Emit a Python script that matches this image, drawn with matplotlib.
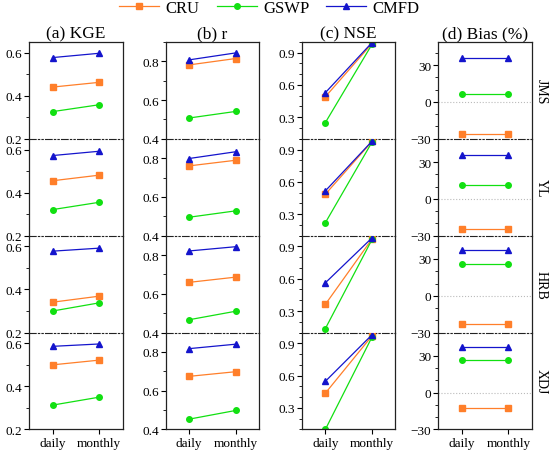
import numpy as np
import matplotlib
matplotlib.use('Agg')
import matplotlib.pyplot as plt
from matplotlib.ticker import MultipleLocator
from matplotlib.lines import Line2D

plt.rcParams['font.family'] = ['Liberation Serif', 'DejaVu Serif']
plt.rcParams['axes.unicode_minus'] = True

regions = ['JMS', 'YL', 'HRB', 'XDJ']
scales = ['daily', 'monthly']
datasets = ['CRU', 'GSWP', 'CMFD']
colors = ['#FF7F2A', '#11E011', '#1414CC']
markers = ['s', 'o', '^']

# values[region] -> [CRU, GSWP, CMFD] each [daily, monthly]
kge = {
    'JMS': [[0.44, 0.462], [0.326, 0.358], [0.577, 0.597]],
    'YL':  [[0.455, 0.481], [0.321, 0.355], [0.572, 0.592]],
    'HRB': [[0.341, 0.369], [0.300, 0.338], [0.578, 0.592]],
    'XDJ': [[0.500, 0.522], [0.313, 0.350], [0.586, 0.597]],
}
r = {
    'JMS': [[0.781, 0.814], [0.507, 0.541], [0.807, 0.843]],
    'YL':  [[0.760, 0.789], [0.495, 0.528], [0.798, 0.833]],
    'HRB': [[0.659, 0.686], [0.466, 0.510], [0.821, 0.843]],
    'XDJ': [[0.674, 0.698], [0.453, 0.498], [0.817, 0.840]],
}
nse = {
    'JMS': [[0.49, 0.985], [0.25, 0.978], [0.528, 0.994]],
    'YL':  [[0.485, 0.975], [0.22, 0.970], [0.516, 0.978]],
    'HRB': [[0.362, 0.970], [0.137, 0.965], [0.562, 0.980]],
    'XDJ': [[0.437, 0.970], [0.10, 0.960], [0.547, 0.980]],
}
bias = {
    'JMS': [[-26.4, -26.4], [6.9, 6.9], [36.0, 36.0]],
    'YL':  [[-24.5, -24.5], [11.2, 11.2], [36.0, 36.0]],
    'HRB': [[-22.9, -22.9], [26.1, 26.1], [37.6, 37.6]],
    'XDJ': [[-12.8, -12.8], [26.7, 26.7], [36.9, 36.9]],
}

metrics = [kge, r, nse, bias]
titles = ['(a) KGE', '(b) r', '(c) NSE', '(d) Bias (%)']
ylims = [(0.2, 0.65), (0.4, 0.9), (0.1, 1.0), (-30, 49)]
majors = [0.2, 0.2, 0.3, 30]
minors = [0.1, 0.1, 0.1, 10]

fig, axes = plt.subplots(4, 4, figsize=(5.5, 4.56), dpi=100)
fig.subplots_adjust(left=0.053, right=0.967, top=0.906, bottom=0.056,
                    wspace=0.46, hspace=0)

x = np.arange(1, len(scales) + 1)
for j, data in enumerate(metrics):
    for i, reg in enumerate(regions):
        ax = axes[i, j]
        ax.patch.set_visible(False)
        for k in range(len(datasets)):
            ax.plot(x, data[reg][k], color=colors[k], marker=markers[k],
                    markersize=4, lw=0.9, clip_on=(j == 2))
        if j == 3:
            ax.axhline(0, color='#BBBBBB', lw=0.8, ls=':', zorder=0)
        ax.set_xlim(0.5, 2.5)
        ax.set_ylim(*ylims[j])
        ax.yaxis.set_major_locator(MultipleLocator(majors[j]))
        ax.yaxis.set_minor_locator(MultipleLocator(minors[j]))
        ax.tick_params(axis='y', which='major', direction='out', length=3.5,
                       width=0.8, labelsize=9.5, pad=1.5)
        ax.tick_params(axis='y', which='minor', direction='out', length=2,
                       width=0.6)
        ax.set_xticks(x)
        if i == 3:
            ax.set_xticklabels(scales)
            ax.tick_params(axis='x', direction='out', length=3.5, width=0.8,
                           labelsize=9.5, pad=2)
        else:
            ax.set_xticklabels([])
            ax.tick_params(axis='x', length=0)
        for s in ['left', 'right', 'top', 'bottom']:
            ax.spines[s].set_linewidth(0.9)
            ax.spines[s].set_color('#222222')
            ax.spines[s].set_zorder(5)
        if i > 0:
            ax.spines['top'].set_visible(False)
        if i < 3:
            ax.spines['bottom'].set_linestyle((0, (6, 2, 1.2, 2, 1.2, 2)))
            ax.spines['bottom'].set_linewidth(0.8)
        if i == 0:
            ax.set_title(titles[j], fontsize=12.5, pad=3)
        if j == 3:
            ax.text(1.1, 0.5, reg, transform=ax.transAxes, rotation=-90,
                    ha='center', va='center', fontsize=10)

handles = [Line2D([], [], color=colors[k], marker=markers[k], markersize=4,
                  lw=0.9) for k in range(len(datasets))]
fig.legend(handles, datasets, loc='upper center', bbox_to_anchor=(0.49, 1.03),
           ncol=3, frameon=False, fontsize=12, handlelength=2.4,
           handletextpad=0.4, columnspacing=1.0)

fig.savefig('out.png', dpi=100)
